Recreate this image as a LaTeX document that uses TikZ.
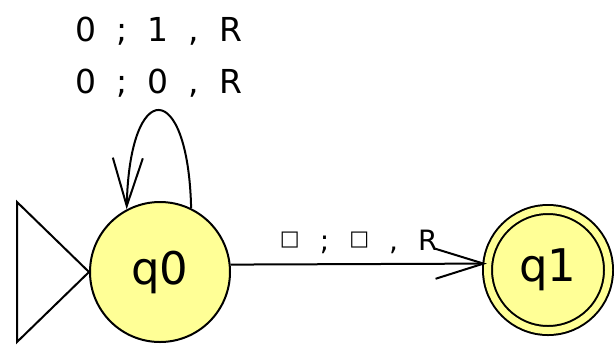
\documentclass[tikz,border=0pt]{standalone}
\usepackage{fontspec}
\setmainfont{DejaVu Sans}
\usetikzlibrary{arrows.meta,positioning}
\definecolor{stateCol}{RGB}{255,255,150}
\newcommand{\labfont}{\fontsize{16.5}{26}\selectfont\spaceskip 10pt\relax}
\newcommand{\edgefont}{\fontsize{14}{14}\selectfont\spaceskip 10pt\relax}
\newcommand{\blanksym}{\raisebox{2.5pt}{\fontsize{10.5}{10.5}\selectfont □}}
\tikzset{
  qstate/.style={circle,draw,line width=1pt,fill=stateCol,inner sep=0pt,
                 minimum size=70pt,font=\fontsize{22.5}{22.5}\selectfont},
  accept/.style={qstate,double=stateCol,double distance=3.5pt,minimum size=60.5pt},
  flow/.style={-{Straight Barb[length=24pt,width=15pt]},line width=1pt},
  lab/.style={font=\labfont,align=center,inner sep=0pt},
  elab/.style={lab,font=\edgefont},
  startmark/.style={draw,line width=1pt,line join=miter},
}

\begin{document}
\begin{tikzpicture}[x=0.5pt,y=-0.5pt]
  \useasboundingbox (0,0) rectangle (614,349);
  \node[qstate] (q0) at (160,272) {q0};
  \node[accept] (q1) at (548,270) {q1};
  % start marker
  \draw[startmark] (q0.west) -- ++(-72,-70) -- ++(0,140) -- cycle;
  % transitions
  \draw[flow] (q0.64) .. controls +(-3,-130) and +(3,-132) .. (q0.118)
    node[lab,pos=0.5,above=6pt] (loopLbl) {0 ; 1 , R\\0 ; 0 , R};
  \draw[flow] (q0.6) -- node[elab,above=4.5pt] (edgeLbl) {\blanksym{} ; \blanksym{} , R} (q1.174);
\end{tikzpicture}
\end{document}
